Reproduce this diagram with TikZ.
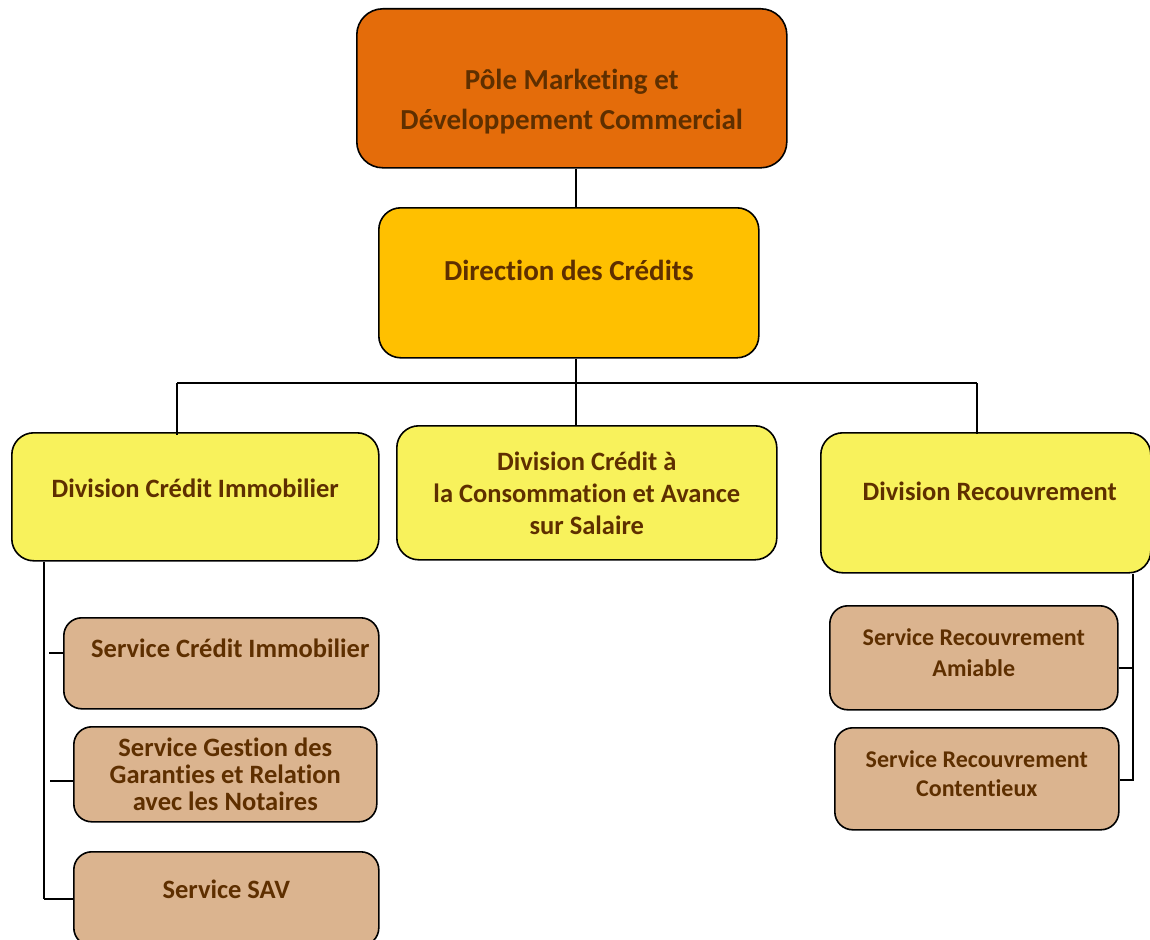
\documentclass[tikz,border=0pt]{standalone}
\usepackage{fontspec}
\setmainfont{Carlito}[Ligatures=NoCommon]
\usetikzlibrary{positioning}
\definecolor{orangepole}{HTML}{E46C0A}
\definecolor{orangedir}{HTML}{FFC000}
\definecolor{jaunediv}{HTML}{F8F25C}
\definecolor{beigeserv}{HTML}{DBB48F}
\definecolor{brun}{HTML}{5E2F00}

\begin{document}
\begin{tikzpicture}[x=1pt, y=-1pt,
	boite/.style={draw=black, line width=1.6pt, rounded corners=22pt, anchor=north west, align=center, text=brun, font=\bfseries},
	pole/.style={boite, fill=orangepole, rounded corners=26pt},
	direction/.style={boite, fill=orangedir},
	division/.style={boite, fill=jaunediv},
	service/.style={boite, fill=beigeserv, rounded corners=18pt},
	lien/.style={line width=1.7pt}]
	\useasboundingbox (0,0) rectangle (1150,939);
	%%%	Niveau 1 et 2
	\node[pole, minimum width=430pt, minimum height=159pt, font=\bfseries\fontsize{29}{40}\selectfont] (pole) at (356,8) {\rule{0pt}{46pt}Pôle Marketing et\\Développement Commercial};
	\node[direction, minimum width=380pt, inner ysep=0pt, text height=73pt, text depth=77pt, font=\bfseries\fontsize{29}{35}\selectfont] (dir) at (378,207) {Direction des Crédits};
	%%%	Divisions
	\node[division, minimum width=367pt, inner ysep=0pt, text height=65pt, text depth=63pt, font=\bfseries\fontsize{26.5}{32}\selectfont] (dci) at (11,432) {Division Crédit Immobilier};
	\node[division, minimum width=380pt, minimum height=134pt, font=\bfseries\fontsize{26.5}{32}\selectfont] (dcc) at (396,425) {Division Crédit à\\la Consommation et Avance\\sur Salaire};
	\node[division, minimum width=330pt, inner ysep=0pt, text height=67.5pt, text depth=72.5pt, font=\bfseries\fontsize{26.5}{32}\selectfont] (drec) at (820,432) {\hspace{8pt}Division Recouvrement};
	%%%	Services
	\node[service, minimum width=315pt, inner ysep=0pt, text height=39.5pt, text depth=51.5pt, font=\bfseries\fontsize{26.5}{32}\selectfont] (sci) at (63,617) {\hspace{18pt}Service Crédit Immobilier};
	\node[service, minimum width=303pt, minimum height=95pt, font=\bfseries\fontsize{26.5}{27}\selectfont] (sgg) at (73,726) {Service Gestion des\\Garanties et Relation\\avec les Notaires};
	\node[service, minimum width=305pt, inner ysep=0pt, text height=46.5pt, text depth=47.5pt, font=\bfseries\fontsize{26.5}{32}\selectfont] (ssav) at (73,851) {Service SAV};
	\node[service, minimum width=288pt, minimum height=104pt, font=\bfseries\fontsize{24}{31}\selectfont] (sra) at (829,605) {Service Recouvrement\\Amiable\rule[-11pt]{0pt}{0pt}};
	\node[service, minimum width=284pt, minimum height=102pt, font=\bfseries\fontsize{24}{29}\selectfont] (src) at (834,727) {Service Recouvrement\\Contentieux\rule[-11pt]{0pt}{0pt}};
	%%%	Liaisons
	\coordinate (tronc) at (576,383);
	\coordinate (busg) at (177,383);
	\coordinate (busd) at (977,383);
	\draw[lien] (pole.south -| tronc) -- (dir.north -| tronc);
	\draw[lien] (dir.south -| tronc) -- (tronc |- dcc.north);
	\draw[lien] (busg) -- (busd);
	\draw[lien] (busg) -- ([yshift=-3pt]busg |- dci.north);
	\draw[lien] (busd) -- ([yshift=-2pt]busd |- drec.north);
	%%%	Gauche
	\coordinate (axeg) at (44,899);
	\draw[lien] (axeg |- dci.south) -- (axeg);
	\draw[lien] ([yshift=10.5pt]sci.west) -- ++(-14,0);
	\draw[lien] ([yshift=-6.5pt]sgg.west) -- ++(-23,0);
	\draw[lien] (ssav.west |- axeg) -- (axeg);
	%%%	Droite
	\coordinate (axed) at (1133,780);
	\draw[lien] (axed |- drec.south) -- (axed) -- (src.east |- axed);
	\draw[lien] ([yshift=-10pt]sra.east) -- ([yshift=-10pt]sra.east -| axed);
\end{tikzpicture}
\end{document}
